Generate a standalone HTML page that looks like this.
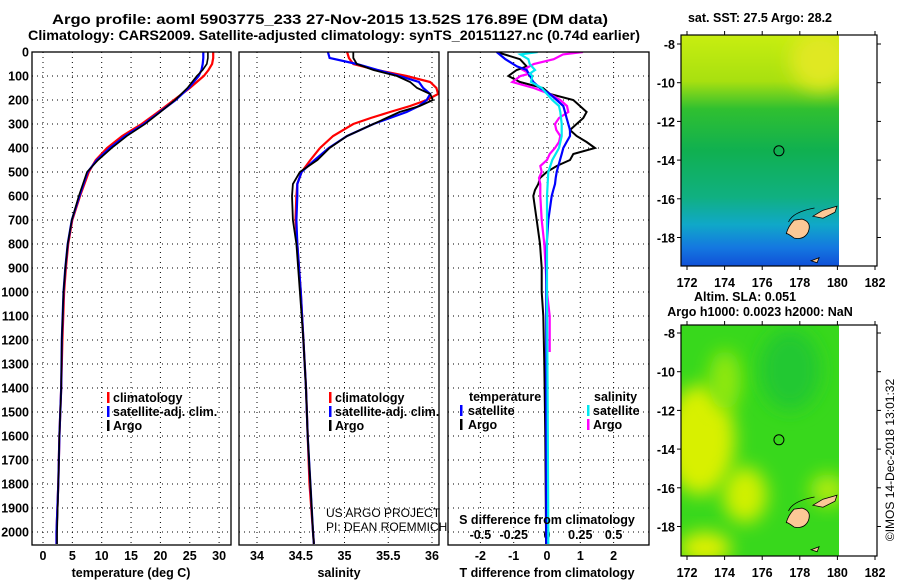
<!DOCTYPE html>
<html><head><meta charset="utf-8">
<style>
html,body{margin:0;padding:0;background:#fff;}
svg{display:block;font-family:"Liberation Sans",sans-serif;}
.b{font-weight:bold;font-size:12.5px;}
.grid{stroke:#000;stroke-width:1;stroke-dasharray:1 4;}
</style></head>
<body>
<svg id="chart" width="900" height="580" viewBox="0 0 900 580">
<defs>
<linearGradient id="sstg" x1="0" y1="0" x2="0" y2="1">
<stop offset="0" stop-color="#c8ee10"/><stop offset="0.2" stop-color="#a8e010"/>
<stop offset="0.32" stop-color="#30c030"/><stop offset="0.5" stop-color="#10b050"/>
<stop offset="0.7" stop-color="#10b080"/><stop offset="0.82" stop-color="#10a8c8"/>
<stop offset="0.92" stop-color="#1478e0"/><stop offset="1" stop-color="#1050d8"/>
</linearGradient>
<filter id="blur" x="-50%" y="-50%" width="200%" height="200%"><feGaussianBlur stdDeviation="9"/></filter>
<clipPath id="c1"><rect x="32" y="52" width="199" height="493"/></clipPath>
<clipPath id="c2"><rect x="239" y="52" width="200" height="493"/></clipPath>
<clipPath id="c3"><rect x="448" y="52" width="201" height="493"/></clipPath>
<clipPath id="m1"><rect x="681" y="35" width="158" height="231"/></clipPath>
<clipPath id="m2"><rect x="681" y="325" width="158" height="231"/></clipPath>
</defs>
<text x="330" y="24" text-anchor="middle" font-weight="bold" font-size="14" textLength="556" lengthAdjust="spacingAndGlyphs">Argo profile: aoml 5903775_233 27-Nov-2015 13.52S 176.89E (DM data)</text>
<text x="334" y="40" text-anchor="middle" font-weight="bold" font-size="14" textLength="612" lengthAdjust="spacingAndGlyphs">Climatology: CARS2009. Satellite-adjusted climatology: synTS_20151127.nc (0.74d earlier)</text>
<g id="axes"></g>
<g id="maps"></g>
</svg>
<script>
// ---- data ----
const tDepth = [0,25,50,75,100,150,200,250,300,350,400,450,500,600,700,800,900,1000,1200,1400,1600,1800,2000,2050];
const tArgo  = [28.1,28.1,27.9,27.2,26.2,24.6,22.5,20.0,17.4,14.3,11.7,9.4,7.5,6.1,4.9,4.2,3.8,3.5,3.2,3.1,2.8,2.6,2.4,2.4];
const tClim  = [29.0,29.0,28.8,28.2,27.4,25.0,22.3,19.6,16.8,13.5,10.9,9.0,7.8,6.3,5.0,4.3,3.9,3.6,3.3,3.1,2.8,2.6,2.3,2.3];
const tSat   = [27.3,27.3,27.2,27.0,26.5,24.8,22.6,19.9,17.2,14.0,11.4,9.2,7.6,6.2,4.9,4.2,3.8,3.5,3.2,3.1,2.8,2.6,2.3,2.3];
const sDepth = [0,25,50,75,100,125,150,175,200,225,250,275,300,350,400,450,500,550,600,700,800,1000,1200,1400,1600,1800,2000,2050];
const sArgo  = [35.10,35.10,35.14,35.33,35.60,35.75,35.83,35.98,36.01,35.86,35.63,35.48,35.33,35.03,34.83,34.69,34.49,34.41,34.40,34.41,34.45,34.49,34.53,34.56,34.58,34.61,34.64,34.65];
const sClim  = [35.03,35.05,35.10,35.37,35.71,35.98,36.05,36.07,35.94,35.75,35.52,35.30,35.10,34.87,34.72,34.61,34.51,34.46,34.45,34.44,34.46,34.50,34.53,34.56,34.58,34.60,34.64,34.65];
const sSat   = [34.81,34.83,35.14,35.38,35.63,35.85,35.90,35.98,35.94,35.85,35.71,35.52,35.33,35.03,34.82,34.66,34.51,34.46,34.46,34.45,34.46,34.50,34.53,34.56,34.58,34.61,34.64,34.65];
const dDepth = [0,30,60,75,100,125,150,175,200,225,250,275,300,325,350,375,400,425,450,475,500,525,550,575,600,650,700,800,900,1000,1100,1300,1600,2000,2050];
const dTArgo = [-1.51,-0.81,-0.61,-0.91,-1.16,-0.81,-0.12,0.09,0.79,0.99,1.19,1.09,0.89,0.69,0.89,1.19,1.44,0.79,0.69,0.29,-0.01,-0.21,-0.26,-0.36,-0.41,-0.36,-0.31,-0.21,-0.16,-0.16,-0.11,-0.08,-0.05,-0.03,-0.03];
const dTSat  = [-1.51,-1.25,-0.9,-0.61,-0.51,-0.41,-0.21,0.09,0.29,0.49,0.54,0.59,0.64,0.69,0.69,0.59,0.49,0.44,0.39,0.34,0.29,0.26,0.24,0.19,0.14,0.09,0.04,-0.01,-0.02,-0.02,-0.02,-0.02,-0.02,-0.02,-0.02];
const sdDepth = [0,10,30,50,75,90,100,125,150,175,200,225,250,275,300,325,350,375,400,425,450,475,500,525,550,600,700,800,900,1000,1100,1150,1250];
const dSArgo = [0.27,0.12,0.05,-0.10,-0.18,-0.13,-0.20,-0.26,-0.10,0.02,0.10,0.15,0.16,0.09,0.06,0.07,0.10,0.09,0.06,0.02,0.00,-0.05,-0.04,-0.06,-0.05,-0.05,-0.04,-0.02,-0.01,0.00,0.02,0.02,0.02];
const scDepth = [0,10,30,50,75,90,100,125,150,175,200,225,250,300,350,400,450,500,600,800,1000,1500,2000,2050];
const dSSat  = [-0.07,-0.20,-0.14,-0.13,-0.09,-0.13,-0.11,-0.12,-0.04,0.00,0.04,0.09,0.10,0.11,0.11,0.09,0.04,0.01,0.00,0.00,0.00,0.005,0.01,0.01];
const depthTicks = [0,100,200,300,400,500,600,700,800,900,1000,1100,1200,1300,1400,1500,1600,1700,1800,1900,2000];
const tTicks = [0,5,10,15,20,25,30];
const sTicks = [34,34.5,35,35.5,36];
const dtTicks = [-2,-1,0,1,2];
const dsTicks = [-0.5,-0.25,0,0.25,0.5];
const lonTicks = [172,174,176,178,180,182];
const latTicks = [-8,-10,-12,-14,-16,-18];

// ---- scales ----
const yD = d => 52 + d*0.24;
const xT = t => 43 + t*5.87;
const xS = s => 257 + (s-34)*87.5;
const xDT = t => 547 + t*33.3;
const xDS = s => 547 + s*133.2;
const NS = 'http://www.w3.org/2000/svg';
const g = document.getElementById('axes');
function mk(tag, attrs, parent, txt){
  const e = document.createElementNS(NS, tag);
  for (const k in attrs) e.setAttribute(k, attrs[k]);
  if (txt !== undefined) e.textContent = txt;
  (parent||g).appendChild(e);
  return e;
}
function line(xs, ds, xf, color, w, clip, name){
  let p = '';
  for (let i=0;i<xs.length;i++) p += (i?'L':'M') + xf(xs[i]).toFixed(1) + ',' + yD(ds[i]).toFixed(1);
  const e = mk('path', {d:p, fill:'none', stroke:color, 'stroke-width':w, 'clip-path':'url(#'+clip+')'});
  
  
}
const panels = [[32,231,'c1'],[239,439,'c2'],[448,649,'c3']];
panels.forEach((p,i)=>{
  depthTicks.forEach(d=>{ if(d>0) mk('line',{x1:p[0],x2:p[1],y1:yD(d),y2:yD(d),class:'grid'}); });
});
tTicks.forEach(t=>mk('line',{x1:xT(t),x2:xT(t),y1:52,y2:545,class:'grid'}));
sTicks.forEach(t=>mk('line',{x1:xS(t),x2:xS(t),y1:52,y2:545,class:'grid'}));
dtTicks.forEach(t=>mk('line',{x1:xDT(t),x2:xDT(t),y1:52,y2:545,class:'grid'}));
depthTicks.forEach(d=>{
  const e = mk('text',{x:29,y:yD(d)+4.5,'text-anchor':'end',class:'b'},g,String(d));
  
  
});
tTicks.forEach(t=>{ const e=mk('text',{x:xT(t),y:560,'text-anchor':'middle',class:'b'},g,String(t));
    });
sTicks.forEach(t=>{ const e=mk('text',{x:xS(t),y:560,'text-anchor':'middle',class:'b'},g,String(t));
    });
dtTicks.forEach(t=>{ const e=mk('text',{x:xDT(t),y:560,'text-anchor':'middle',class:'b'},g,String(t));
    });
dsTicks.forEach(t=>{ const e=mk('text',{x:xDS(t),y:539,'text-anchor':'middle',class:'b'},g,String(t));
    });
line(tClim,tDepth,xT,'#ff0000',2.2,'c1','temp-climatology-line');
line(tSat,tDepth,xT,'#0000ff',2.2,'c1','temp-satellite-line');
line(tArgo,tDepth,xT,'#000000',1.6,'c1','temp-argo-line');
line(sClim,sDepth,xS,'#ff0000',2.2,'c2','sal-climatology-line');
line(sSat,sDepth,xS,'#0000ff',2.2,'c2','sal-satellite-line');
line(sArgo,sDepth,xS,'#000000',1.8,'c2','sal-argo-line');
line(dTArgo,dDepth,xDT,'#000000',2,'c3','t-diff-argo-line');
line(dSArgo,sdDepth,xDS,'#ff00ff',2.2,'c3','s-diff-argo-line');
line(dTSat,dDepth,xDT,'#0000ff',2.2,'c3','t-diff-satellite-line');
line(dSSat,scDepth,xDS,'#00e8f0',2.2,'c3','s-diff-satellite-line');
panels.forEach(p=>{ const e=mk('rect',{x:p[0],y:52,width:p[1]-p[0],height:493,fill:'none',stroke:'#000','stroke-width':1.3});
    });
[[131,577,'temperature (deg C)','temperature-axis-title'],[339,577,'salinity','salinity-axis-title'],[547,577,'T difference from climatology','t-diff-axis-title'],[547,524,'S difference from climatology','s-diff-axis-title']].forEach(a=>{
  const e=mk('text',{x:a[0],y:a[1],'text-anchor':'middle',class:'b'},g,a[2]);
    });
function leg(x,y,color,label,name,mx){
  mk('rect',{x:mx,y:y-10,width:2.5,height:11,fill:color});
  const e=mk('text',{x:x,y:y,class:'b'},g,label);
   
}
leg(113,402,'#ff0000','climatology','legend-climatology',107);
leg(113,416,'#0000ff','satellite-adj. clim.','legend-satellite-adj',107);
leg(113,430,'#000000','Argo','legend-argo',107);
leg(335,402,'#ff0000','climatology','legend-climatology-sal',329);
leg(335,416,'#0000ff','satellite-adj. clim.','legend-satellite-adj-sal',329);
leg(335,430,'#000000','Argo','legend-argo-sal',329);
mk('text',{x:469,y:401,class:'b'},g,'temperature');
leg(468,415,'#0000ff','satellite','legend-t-satellite',460);
leg(468,429,'#000000','Argo','legend-t-argo',460);
mk('text',{x:594,y:401,class:'b'},g,'salinity');
leg(593,415,'#00e8f0','satellite','legend-s-satellite',587);
leg(593,429,'#ff00ff','Argo','legend-s-argo',587);
mk('text',{x:326,y:517,'font-size':'12'},g,'US ARGO PROJECT');
mk('text',{x:326,y:531,'font-size':'12'},g,'PI: DEAN ROEMMICH');

// ---- maps ----
const m = document.getElementById('maps');
const xLon = l => 687 + (l-172)*18.8;
function map(top, lat8, name, bgFn){
  const yLat = l => lat8 + (-8 - l)*19.35;
  const grp = mk('g',{},m);  
  bgFn(grp, top);
  const ig = mk('g',{'clip-path':'url(#'+(top<100?'m1':'m2')+')'},grp);
  mk('path',{d:`M${xLon(177.7)},${yLat(-17.1)} q-6,6 -8,14 q0,-2 8,4 q10,2 14,-6 q4,-10 -6,-13 z`,fill:'#fcc896',stroke:'#000','stroke-width':0.8},ig);
  mk('path',{d:`M${xLon(178.7)},${yLat(-16.9)} l10,-6 l14,-4 l-2,6 l-12,6 z`,fill:'#fcc896',stroke:'#000','stroke-width':0.8},ig);
  mk('path',{d:`M${xLon(177.4)},${yLat(-17.2)} q4,-10 26,-14`,fill:'none',stroke:'#000','stroke-width':0.8},ig);
  mk('path',{d:`M${xLon(178.6)},${yLat(-19.2)} l8,-3 l-2,5 z`,fill:'#fcc896',stroke:'#000','stroke-width':0.8},ig);
  mk('rect',{x:xLon(180.1),y:top,width:38,height:231,fill:'#fff'},grp);
  mk('circle',{cx:xLon(176.89),cy:yLat(-13.52),r:5,fill:'none',stroke:'#000','stroke-width':1},grp);
  mk('rect',{x:681,y:top,width:196,height:231,fill:'none',stroke:'#000','stroke-width':1.2},grp);
  lonTicks.forEach(l=>{
    mk('line',{x1:xLon(l),x2:xLon(l),y1:top,y2:top-4,stroke:'#000'},grp);
    mk('line',{x1:xLon(l),x2:xLon(l),y1:top+231,y2:top+235,stroke:'#000'},grp);
    const e=mk('text',{x:xLon(l),y:top+252,'text-anchor':'middle',class:'b','font-size':'13'},grp,String(l));
     
  });
  latTicks.forEach(l=>{
    mk('line',{x1:677,x2:681,y1:yLat(l),y2:yLat(l),stroke:'#000'},grp);
    mk('line',{x1:877,x2:881,y1:yLat(l),y2:yLat(l),stroke:'#000'},grp);
    const e=mk('text',{x:675,y:yLat(l)+5,'text-anchor':'end',class:'b','font-size':'13'},grp,String(l));
     
  });
}
map(35, 44, 'sst-map', (grp,top)=>{
  mk('rect',{x:681,y:top,width:158,height:231,fill:'url(#sstg)'},grp);
  mk('ellipse',{cx:820,cy:60,rx:30,ry:30,fill:'#e0e820',filter:'url(#blur)','clip-path':'url(#m1)'},grp);
});
map(325, 333, 'sla-map', (grp,top)=>{
  mk('rect',{x:681,y:top,width:158,height:231,fill:'#38d81c'},grp);
  const bl = mk('g',{'clip-path':'url(#m2)'},grp);
  mk('ellipse',{cx:790,cy:370,rx:30,ry:40,fill:'#20c830',filter:'url(#blur)'},bl);
  mk('ellipse',{cx:700,cy:440,rx:35,ry:55,fill:'#d8f000',filter:'url(#blur)'},bl);
  mk('ellipse',{cx:745,cy:495,rx:22,ry:28,fill:'#d0f000',filter:'url(#blur)'},bl);
  mk('ellipse',{cx:705,cy:548,rx:26,ry:16,fill:'#e0f000',filter:'url(#blur)'},bl);
  mk('ellipse',{cx:725,cy:380,rx:16,ry:30,fill:'#90e810',filter:'url(#blur)'},bl);
  mk('ellipse',{cx:828,cy:490,rx:18,ry:16,fill:'#b0ec10',filter:'url(#blur)'},bl);
});
[[760,22,'sat. SST: 27.5 Argo: 28.2','sst-map-title'],[745,301,'Altim. SLA: 0.051','sla-map-title'],[760,316,'Argo h1000: 0.0023 h2000: NaN','sla-map-subtitle']].forEach(a=>{
  const e=mk('text',{x:a[0],y:a[1],'text-anchor':'middle',class:'b'},m,a[2]);
    });
const c=mk('text',{x:0,y:0,'font-size':'12',transform:'translate(894,460) rotate(-90)','text-anchor':'middle'},m,'©IMOS 14-Dec-2018 13:01:32');


</script>
</body></html>
